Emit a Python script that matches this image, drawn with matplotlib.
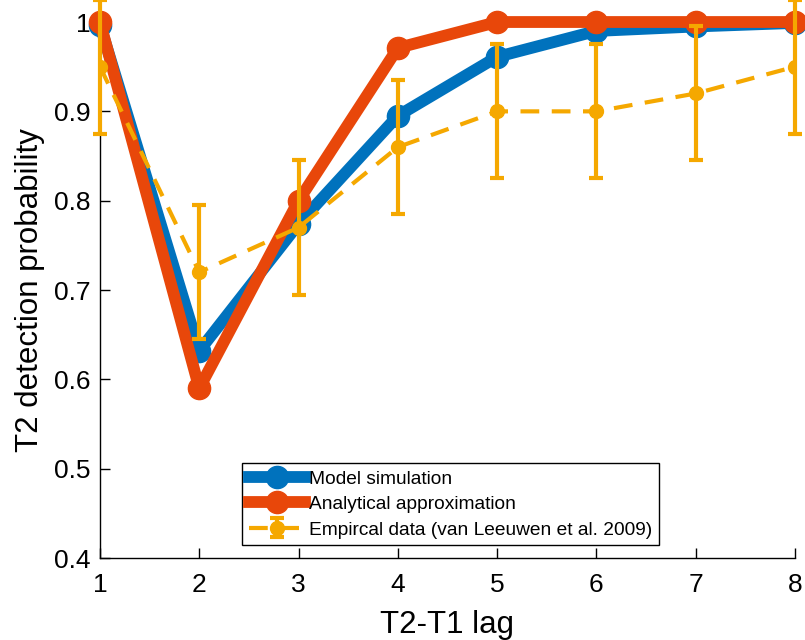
import numpy as np
from matplotlib import pyplot as plt

plt.rcParams['font.family'] = ['Liberation Sans', 'DejaVu Sans']

lag = [1, 2, 3, 4, 5, 6, 7, 8]
model_sim = [0.997, 0.632, 0.774, 0.895, 0.961, 0.99, 0.995, 0.999]
analytic = [1.0, 0.59, 0.80, 0.971, 1.0, 1.0, 1.0, 1.0]
empirical = [0.95, 0.72, 0.77, 0.86, 0.90, 0.90, 0.92, 0.95]
emp_err = [0.075, 0.075, 0.075, 0.075, 0.075, 0.075, 0.075, 0.075]

c_blue = '#0072BD'
c_red = '#E8470A'
c_yel = '#F5A800'

fig = plt.figure(figsize=(8.05, 6.4), dpi=100)
ax = fig.add_axes([0.1242, 0.128, 0.8634, 0.8376])

ax.plot(lag, model_sim, color=c_blue, lw=8.5, marker='o', ms=16,
        label='Model simulation', zorder=2, clip_on=False)
ax.plot(lag, analytic, color=c_red, lw=8.5, marker='o', ms=16,
        label='Analytical approximation', zorder=3, clip_on=False)
eb = ax.errorbar(lag, empirical, yerr=emp_err, color=c_yel, lw=3, marker='o', ms=10,
                 elinewidth=3, capsize=5, capthick=3, dashes=[4.5, 3],
                 label='Empircal data (van Leeuwen et al. 2009)', zorder=4)
for a in eb[1] + eb[2]:
    a.set_clip_on(False)

ax.set_xlim(1, 8)
ax.set_ylim(0.4, 1.0)
ax.set_xticks(lag)
ax.set_yticks([0.4, 0.5, 0.6, 0.7, 0.8, 0.9, 1.0])
ax.set_yticklabels(['0.4', '0.5', '0.6', '0.7', '0.8', '0.9', '1'])
ax.tick_params(direction='in', length=7, width=1, labelsize=19, pad=7)
ax.tick_params(axis='x', pad=11)
ax.spines['top'].set_visible(False)
ax.spines['right'].set_visible(False)
ax.spines['left'].set_linewidth(1)
ax.spines['bottom'].set_linewidth(1)

ax.set_xlabel('T2-T1 lag', fontsize=22.5, labelpad=9)
ax.set_ylabel('T2 detection probability', fontsize=22.5, labelpad=6)

leg = ax.legend(loc='lower left', bbox_to_anchor=(0.205, 0.024), fontsize=13.8,
                frameon=True, fancybox=False, edgecolor='black', framealpha=1,
                borderpad=0.35, handlelength=2.9, handletextpad=0.2, labelspacing=0.42,
                borderaxespad=0)
leg.get_frame().set_linewidth(1)

plt.savefig('out.png', dpi=100)
